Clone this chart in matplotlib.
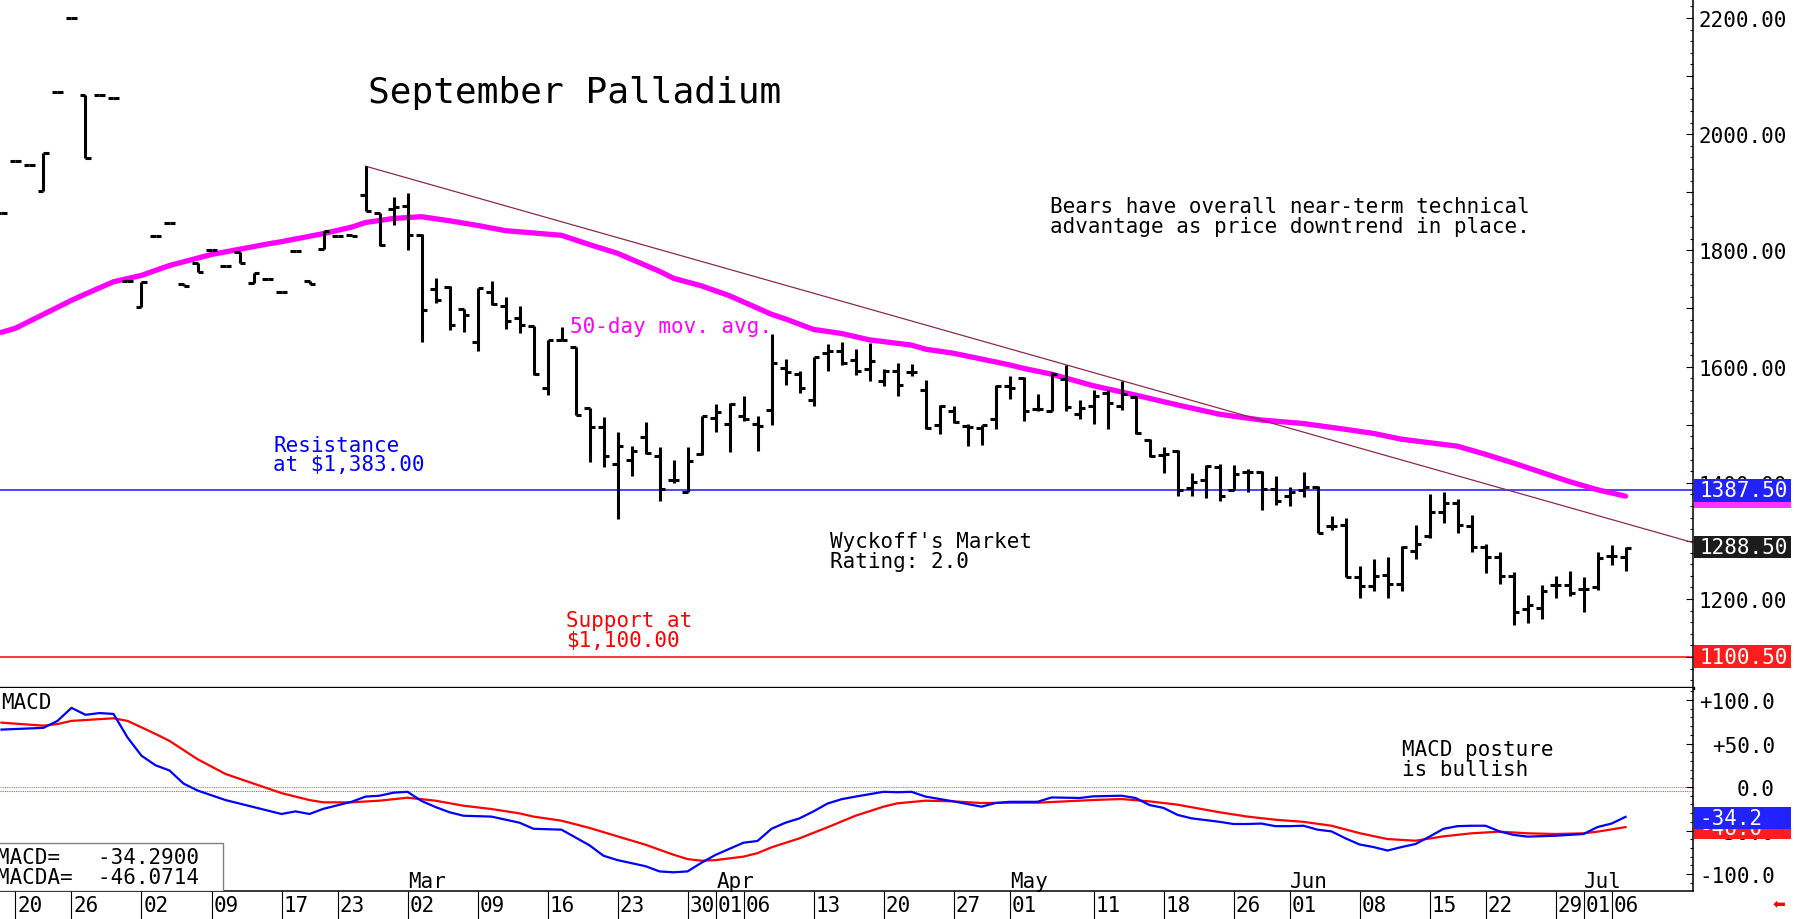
import numpy as np
import matplotlib
matplotlib.use('Agg')
import matplotlib.pyplot as plt
from matplotlib.patches import Rectangle
from matplotlib.transforms import blended_transform_factory
from matplotlib.ticker import MultipleLocator, FuncFormatter

plt.rcParams['font.family'] = ['DejaVu Sans Mono', 'DejaVu Sans']

# daily bars, trading-day index -1 .. 115 (Jan 19 .. Jul 07)
opens = [1864, 1954, 1947, 1902, 2073, 2200, 2068, 2067, 2062, 1748,
         1702, 1824, 1847, 1742, 1779, 1801, 1774, 1797, 1744, 1751,
         1728, 1799, 1748, 1802, 1824, 1826, 1895, 1865, 1872, 1877,
         1827, 1733, 1737, 1699, 1642, 1728, 1705, 1683, 1670, 1563,
         1646, 1633, 1528, 1496, 1432, 1439, 1478, 1446, 1404, 1385,
         1450, 1511, 1501, 1515, 1501, 1526, 1597, 1587, 1542, 1623,
         1627, 1611, 1595, 1576, 1593, 1591, 1560, 1499, 1523, 1497,
         1494, 1510, 1567, 1580, 1527, 1523, 1579, 1518, 1532, 1555,
         1532, 1547, 1473, 1448, 1455, 1391, 1404, 1428, 1388, 1419,
         1418, 1389, 1378, 1387, 1392, 1325, 1327, 1238, 1223, 1241,
         1226, 1283, 1308, 1350, 1366, 1325, 1289, 1272, 1239, 1182,
         1184, 1224, 1224, 1217, 1220, 1274, 1272]
highs = [1864, 1954, 1947, 1968, 2073, 2200, 2068, 2067, 2062, 1748,
         1745, 1824, 1847, 1742, 1779, 1801, 1774, 1797, 1761, 1751,
         1728, 1799, 1748, 1833, 1824, 1826, 1945, 1865, 1892, 1898,
         1828, 1752, 1738, 1699, 1735, 1747, 1719, 1704, 1670, 1646,
         1669, 1633, 1528, 1514, 1487, 1464, 1504, 1461, 1440, 1461,
         1515, 1536, 1537, 1550, 1515, 1656, 1613, 1593, 1616, 1639,
         1642, 1630, 1641, 1596, 1606, 1605, 1577, 1534, 1532, 1501,
         1500, 1569, 1584, 1582, 1553, 1591, 1602, 1543, 1560, 1560,
         1576, 1549, 1475, 1462, 1457, 1417, 1431, 1432, 1431, 1423,
         1421, 1411, 1393, 1419, 1394, 1343, 1339, 1256, 1268, 1272,
         1291, 1327, 1381, 1385, 1372, 1345, 1295, 1281, 1247, 1207,
         1224, 1239, 1249, 1237, 1281, 1293, 1289]
lows = [1864, 1954, 1947, 1902, 2073, 2200, 1959, 2067, 2062, 1748,
        1702, 1824, 1847, 1738, 1763, 1801, 1774, 1778, 1744, 1751,
        1728, 1799, 1743, 1802, 1824, 1824, 1867, 1808, 1844, 1801,
        1643, 1710, 1663, 1659, 1626, 1706, 1665, 1658, 1586, 1551,
        1645, 1516, 1435, 1428, 1338, 1411, 1450, 1369, 1400, 1384,
        1448, 1487, 1453, 1506, 1454, 1500, 1569, 1554, 1532, 1593,
        1602, 1586, 1576, 1566, 1550, 1583, 1493, 1484, 1503, 1464,
        1465, 1493, 1545, 1507, 1524, 1523, 1524, 1510, 1501, 1493,
        1526, 1484, 1444, 1417, 1378, 1378, 1373, 1368, 1388, 1385,
        1354, 1361, 1360, 1375, 1314, 1318, 1237, 1201, 1213, 1201,
        1213, 1269, 1305, 1331, 1314, 1281, 1245, 1226, 1155, 1159,
        1166, 1201, 1205, 1178, 1216, 1259, 1249]
closes = [1864, 1954, 1947, 1968, 2073, 2200, 1959, 2067, 2062, 1748,
          1745, 1824, 1847, 1738, 1763, 1801, 1774, 1778, 1761, 1751,
          1728, 1799, 1743, 1833, 1824, 1824, 1867, 1810, 1874, 1826,
          1697, 1715, 1672, 1688, 1735, 1708, 1678, 1672, 1587, 1646,
          1646, 1517, 1496, 1446, 1464, 1455, 1451, 1389, 1404, 1438,
          1515, 1522, 1536, 1510, 1497, 1607, 1590, 1564, 1616, 1627,
          1606, 1593, 1609, 1593, 1568, 1591, 1494, 1533, 1505, 1496,
          1499, 1567, 1563, 1524, 1527, 1588, 1530, 1528, 1550, 1537,
          1553, 1486, 1446, 1450, 1387, 1402, 1429, 1378, 1415, 1419,
          1389, 1369, 1385, 1392, 1314, 1325, 1238, 1223, 1239, 1226,
          1289, 1295, 1350, 1366, 1327, 1289, 1272, 1239, 1178, 1190,
          1214, 1224, 1210, 1218, 1270, 1274, 1288.5]

# 50-day moving average
ma_days = [-1, 0, 2, 4, 5, 7, 9, 11, 14, 16, 18, 19, 22, 24, 25, 27, 29, 31, 33, 35,
           39, 41, 43, 46, 47, 49, 51, 54, 55, 57, 59, 61, 64, 65, 67, 71, 72, 74, 77, 80,
           83, 86, 89, 92, 95, 97, 99, 101, 103, 105, 107, 109, 111, 113, 115]
ma_vals = [1659, 1666, 1690, 1714, 1725, 1746, 1757, 1774, 1793, 1802, 1811, 1815, 1829, 1840,
           1848, 1855, 1858, 1851, 1843, 1834, 1826, 1810, 1795, 1764, 1752, 1739, 1722, 1690,
           1682, 1664, 1657, 1646, 1637, 1630, 1623, 1603, 1597, 1587, 1567, 1551, 1534, 1518,
           1508, 1502, 1492, 1485, 1475, 1469, 1463, 1449, 1434, 1418, 1402, 1388, 1377]

# trend line anchors
trend_days = [25, 115]
trend_prices = [1945, 1330]

resistance = 1387.5
support = 1100.5
last_price = 1288.5

# MACD (blue) and its average (red)
macd_days = [-1, 2, 3, 4, 5, 6, 7, 8, 9, 10, 11, 12, 13, 15, 17, 19, 20, 21, 22, 24, 25, 26, 27,
             28, 29, 30, 31, 32, 34, 36, 37, 39, 41, 42, 43, 45, 46, 47, 48, 49, 50, 51, 52, 53,
             54, 55, 56, 57, 58, 59, 60, 62, 63, 64, 65, 67, 69, 70, 71, 73, 74, 76, 77, 79, 80,
             81, 82, 83, 84, 86, 87, 88, 89, 90, 91, 92, 93, 94, 95, 96, 97, 98, 99, 100, 101,
             102, 103, 104, 105, 106, 107, 108, 110, 112, 113, 114, 115]
macd_vals = [66, 68, 76, 91, 83, 85, 84, 57, 36, 25, 19, 4, -4, -15, -23, -31, -28, -31, -25, -17,
             -11, -10, -6.5, -5.5, -16, -23, -29, -33, -34, -41, -48, -49, -67, -79, -84, -91,
             -97, -98, -97, -87, -78, -71, -64, -62, -48, -41, -36, -28, -19, -14, -11, -5.5, -6,
             -5.5, -11, -16.5, -22.6, -18.4, -17, -17, -12, -12.6, -10.7, -10, -12.6, -20.7, -24,
             -32, -36, -40, -42.5, -42.5, -42, -45, -45, -44.5, -49, -51, -59, -66, -69, -73, -69,
             -65.5, -57, -48, -45, -44.5, -44.5, -51, -55, -57, -56, -54, -46, -42, -34.29]
sig_days = [-1, 2, 3, 4, 7, 8, 9, 10, 11, 13, 15, 17, 19, 21, 22, 24, 26, 28, 30, 32, 34, 36, 37,
            39, 41, 43, 45, 47, 48, 49, 50, 52, 53, 54, 56, 58, 60, 62, 63, 65, 67, 69, 71, 73,
            76, 77, 79, 81, 83, 86, 88, 90, 92, 94, 96, 98, 100, 102, 104, 106, 108, 110, 112,
            113, 115]
sig_vals = [74, 70.5, 72.4, 76, 79, 76, 68.6, 61, 53, 32, 15, 4, -7, -15, -17.6, -17.6, -15.7,
            -12.3, -15.7, -21.5, -25.3, -30.3, -34, -38.7, -47, -56.7, -66.3, -77.8, -82.8, -84.7,
            -84, -80, -76, -69.3, -59, -46.3, -33, -22.6, -18.7, -15.7, -16.5, -18.4, -18, -18,
            -15.7, -14.9, -13.8, -16.5, -20.3, -29, -34, -37.6, -40, -44.5, -53, -59.8, -61.7,
            -56.7, -53.2, -51.3, -53.2, -54, -53.2, -51.3, -46.07]

date_ticks = [0, 4, 9, 14, 19, 23, 28, 33, 38, 43, 48, 50, 52, 57, 62, 67, 71, 77, 82, 87,
              91, 96, 101, 105, 110, 112, 114]
date_labels = ['20', '26', '02', '09', '17', '23', '02', '09', '16', '23', '30', '01', '06',
               '13', '20', '27', '01', '11', '18', '26', '01', '08', '15', '22', '29', '01', '06']
month_ticks = [28, 50, 71, 91, 112]
month_labels = ['Mar', 'Apr', 'May', 'Jun', 'Jul']

W, H = 1794, 920
fig = plt.figure(figsize=(W / 100, H / 100), dpi=100)
ax = fig.add_axes([0, 231 / H, 1693 / W, 689 / H])
ax2 = fig.add_axes([0, 28 / H, 1693 / W, 203 / H])

xlo, xhi = -1.107, 119.82
ax.set_xlim(xlo, xhi)
ax.set_ylim(1046.8, 2232.7)
ax2.set_xlim(xlo, xhi)
ax2.set_ylim(-119.5, 113.8)

# price bars
x = np.arange(len(opens)) - 1
ax.vlines(x, lows, highs, color='black', lw=2.2, zorder=3)
ax.hlines(opens, x - 0.42, x, color='black', lw=2.2, zorder=3)
ax.hlines(closes, x, x + 0.42, color='black', lw=2.2, zorder=3)

ax.plot(ma_days, ma_vals, color='#ff00ff', lw=3.8, solid_capstyle='round', zorder=2)

slope = (trend_prices[1] - trend_prices[0]) / (trend_days[1] - trend_days[0])
ax.plot([trend_days[0], xhi], [trend_prices[0], trend_prices[0] + slope * (xhi - trend_days[0])],
        color='#8b2a4a', lw=0.9, zorder=2)

ax.axhline(resistance, color='#3a3aff', lw=1.3, zorder=1)
ax.axhline(support, color='#ff0000', lw=1.1, zorder=1)

# annotations
ax.text(25.2, 2055, 'September Palladium', fontsize=26, va='baseline')
ax.text(73.9, 1866, 'Bears have overall near-term technical', fontsize=15, va='baseline')
ax.text(73.9, 1832, 'advantage as price downtrend in place.', fontsize=15, va='baseline')
ax.text(39.6, 1660, '50-day mov. avg.', fontsize=15, color='#ff00ff', va='baseline')
ax.text(18.4, 1455, 'Resistance', fontsize=15, color='#0000ff', va='baseline')
ax.text(18.4, 1422, 'at $1,383.00', fontsize=15, color='#0000ff', va='baseline')
ax.text(39.35, 1153, 'Support at', fontsize=15, color='#ff0000', va='baseline')
ax.text(39.35, 1119, '$1,100.00', fontsize=15, color='#ff0000', va='baseline')
ax.text(58.2, 1289, "Wyckoff's Market", fontsize=15, va='baseline')
ax.text(58.2, 1255, 'Rating: 2.0', fontsize=15, va='baseline')

# price axis
for s in ['left', 'top']:
    ax.spines[s].set_visible(False)
ax.spines['right'].set_linewidth(1.1)
ax.spines['bottom'].set_linewidth(2.4)
ax.set_xticks([])
ax.yaxis.tick_right()
ax.set_yticks(np.arange(1100, 2300, 100))
ax.yaxis.set_major_formatter(FuncFormatter(lambda v, p: f'{v:.2f}' if round(v) % 200 == 0 else ''))
ax.yaxis.set_minor_locator(MultipleLocator(20))
ax.tick_params(axis='y', which='major', direction='in', length=5, width=0.8, pad=4, labelsize=15)
ax.tick_params(axis='y', which='minor', direction='in', length=2.5, width=0.8)


def side_box(axis, yval, h, text, fc, z, fs=15):
    # coloured value tag on the right of the axis; z sets the stacking order
    tr = blended_transform_factory(axis.transAxes, axis.transData)
    axis.add_patch(Rectangle((1.0006, yval - h / 2), 0.0575, h, transform=tr, facecolor=fc,
                             edgecolor='none', clip_on=False, zorder=z))
    axis.text(1.0036, yval, text, transform=tr, color='white', fontsize=fs, va='center',
              ha='left', clip_on=False, zorder=z + 0.5)


side_box(ax, ma_vals[-1], 39.6, '', '#ff33ff', 6)
side_box(ax, resistance, 39.6, '1387.50', '#2222ff', 7)
side_box(ax, last_price + 1, 39, '1288.50', '#1c1c1c', 6)
side_box(ax, support, 39.6, '1100.50', '#ff1c1c', 6)

# MACD pane
ax2.plot(sig_days, sig_vals, color='#ff0000', lw=1.6, zorder=3)
ax2.plot(macd_days, macd_vals, color='#0000ff', lw=1.6, zorder=4)
ax2.axhline(0, color='#ff6666', lw=0.8, ls=(0, (1, 1)), zorder=1)
ax2.axhline(-4.6, color='#6666ff', lw=0.8, ls=(0, (1, 1)), zorder=1)

ax2.text(-1.0, 90.5, 'MACD', fontsize=15, va='baseline')
ax2.text(99.0, 36.8, 'MACD posture', fontsize=15, va='baseline')
ax2.text(99.0, 13.8, 'is bullish', fontsize=15, va='baseline')

ax2.add_patch(Rectangle((-0.01, 0), 0.1417, 0.2365, transform=ax2.transAxes, facecolor='white',
                        edgecolor='#808080', lw=1.0, zorder=8))
ax2.text(-0.002, 0.138, 'MACD=   -34.2900', transform=ax2.transAxes, fontsize=15,
         va='baseline', zorder=9)
ax2.text(-0.002, 0.039, 'MACDA=  -46.0714', transform=ax2.transAxes, fontsize=15,
         va='baseline', zorder=9)

for s in ['left', 'top']:
    ax2.spines[s].set_visible(False)
ax2.spines['right'].set_linewidth(1.1)
ax2.spines['bottom'].set_linewidth(1.1)
ax2.yaxis.tick_right()
ax2.set_yticks([-100, -50, 0, 50, 100])
ax2.set_yticklabels(['-100.0', '-50.0', '0.0', '+50.0', '+100.0'])
for lab in ax2.get_yticklabels():
    lab.set_horizontalalignment('right')
ax2.yaxis.set_minor_locator(MultipleLocator(10))
ax2.tick_params(axis='y', which='major', direction='in', length=5, width=0.8, pad=59, labelsize=15)
ax2.tick_params(axis='y', which='minor', direction='in', length=2.5, width=0.8)

side_box(ax2, -47.5, 25.6, '-46.0', '#ff1c1c', 6)
side_box(ax2, -35.4, 25.6, '-34.2', '#2222ff', 7)

ax2.set_xticks(date_ticks)
ax2.set_xticklabels([''] * len(date_ticks))
ax2.tick_params(axis='x', direction='out', length=21, width=0.8, color='black')
trx = blended_transform_factory(ax2.transData, ax2.transAxes)
for t, lab in zip(date_ticks, date_labels):
    ax2.text(t + 0.15, -0.0985, lab, transform=trx, fontsize=15, va='baseline', ha='left',
             clip_on=False)
for t, lab in zip(month_ticks, month_labels):
    ax2.text(t + 0.05, 0.02, lab, transform=trx, fontsize=15, va='baseline', ha='left')

fig.text(1779 / W, 1 - 904 / H, '\u2b05', color='#ff0000', fontsize=11, ha='center',
         va='center', family='DejaVu Sans')

fig.savefig('out.png', dpi=100)
